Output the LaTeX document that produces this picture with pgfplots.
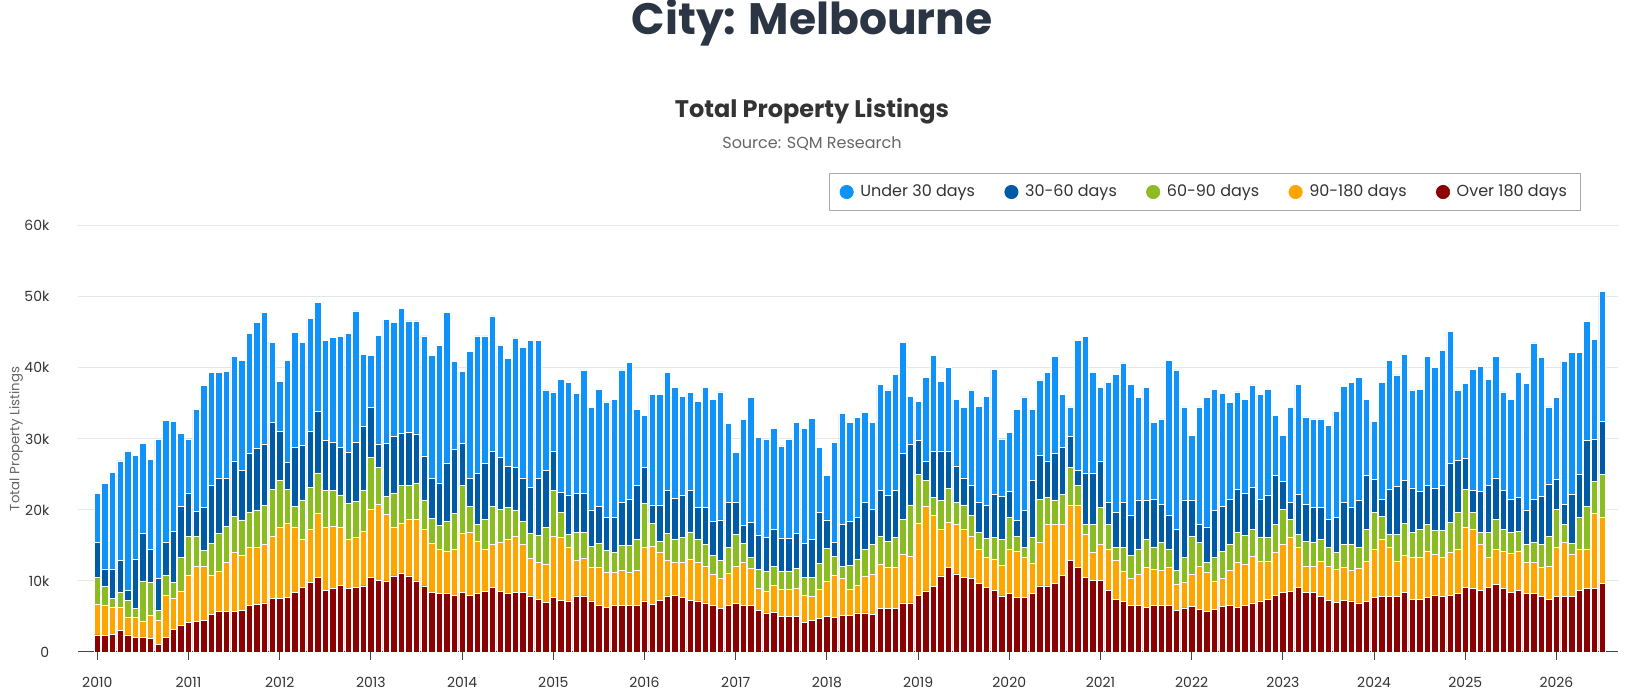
\documentclass[border=0pt]{standalone}
\usepackage{pgfplots}
\usepackage{pgfplotstable}
\pgfplotsset{compat=1.18}
\usepackage{fontspec}
\setmainfont{Poppins}
\definecolor{cltb}{HTML}{0F93FA}
\definecolor{cdkb}{HTML}{005BA6}
\definecolor{cgrn}{HTML}{8BBC21}
\definecolor{corg}{HTML}{FFA500}
\definecolor{cred}{HTML}{8B0000}
\definecolor{titlec}{HTML}{2B3544}
\definecolor{txt}{HTML}{333333}
\definecolor{subc}{HTML}{666666}
\definecolor{gridc}{HTML}{E6E6E6}
\definecolor{legb}{HTML}{AAAAAA}
\definecolor{axc}{HTML}{444444}

\pgfplotstableread{
x red org grn dkb ltb
0 2400 4350 3750 4900 6900
1 2300 4200 2700 2500 12000
2 2500 3800 1250 4150 13600
3 3000 3300 2050 4550 14000
4 2400 2500 2400 1400 19600
5 2100 2800 1200 7000 14600
6 2000 2300 5700 6700 12700
7 1900 3300 4600 4600 12700
8 1100 3300 1500 4400 19600
9 2000 6000 2800 4600 17200
10 3200 4350 2250 7200 15500
11 3700 4900 4700 7200 10300
12 4200 6600 5500 6100 7600
13 4300 7800 4200 3500 14300
14 4400 7700 2200 6100 17100
15 5300 5500 4500 8200 15800
16 5700 5700 5300 7800 14800
17 5700 6900 5100 6800 15000
18 5700 8300 5100 7800 14700
19 5900 7700 5000 7000 15500
20 6600 8100 5000 8200 16900
21 6750 7950 5300 8600 17800
22 6900 8200 5500 8700 18500
23 7550 8750 6600 9400 11300
24 7550 9950 6600 7000 7000
25 7700 10400 4800 3800 14400
26 8350 9150 3000 8300 16200
27 9050 6750 5600 7700 14500
28 9800 7500 5900 7900 15800
29 10500 9000 5700 8700 15300
30 8700 8800 5300 7000 14000
31 8900 8800 5000 6800 14800
32 9400 8100 4600 6700 15600
33 8900 7000 5000 7200 16700
34 9050 7050 5100 8300 18500
35 9300 7700 5700 9100 10100
36 10500 9600 7300 7000 7400
37 10100 10700 5200 3300 15300
38 10000 9400 2500 7500 17400
39 10700 6800 4900 8000 16000
40 11100 7000 5300 7400 17600
41 10700 8000 4700 7500 15700
42 10000 8700 5100 6900 15900
43 9300 7900 4200 6200 16900
44 8350 6950 3500 5600 17300
45 8200 6200 3400 6000 19400
46 8200 6000 4200 8100 21300
47 8000 6400 5100 9000 12400
48 8350 8350 6700 6000 10100
49 8000 8800 3700 3900 17900
50 8200 7400 2300 7200 19400
51 8500 5900 4300 7900 17900
52 9050 6050 5400 7800 19000
53 8500 7000 4600 7300 15700
54 8200 7700 4400 5900 15100
55 8350 7950 3700 6000 18200
56 8350 6750 3300 6100 18400
57 7900 5300 3500 6500 20700
58 7450 5150 3800 8000 19500
59 7000 5400 5100 8100 11300
60 7700 8600 6400 5600 8300
61 7300 8800 3600 2800 15900
62 7200 7500 1800 5600 15800
63 7900 5000 3900 5500 14100
64 7900 5300 3600 5500 17400
65 7200 4700 3000 5100 14400
66 6600 5300 3400 5200 16500
67 6300 4900 3100 4600 16300
68 6500 4700 2800 4900 16700
69 6500 5000 3500 6100 18600
70 6500 4700 3800 6500 19300
71 6500 5000 4300 7600 10800
72 7200 7500 6200 5100 7300
73 6750 8150 3200 2600 15600
74 7300 6700 1600 5100 15600
75 7900 5000 3800 6100 16600
76 8000 4600 3300 5700 15600
77 7700 4900 3500 5900 14000
78 7300 5800 3800 5900 13700
79 7200 5400 3200 4500 15000
80 6900 5200 3000 5200 16900
81 6500 4500 2600 4800 17200
82 6100 4300 2500 5700 18000
83 6600 4500 3600 6400 11100
84 6850 5250 4400 4600 7000
85 6600 6000 2700 2500 14900
86 6500 5300 1500 4900 17600
87 5900 3100 2600 4800 13800
88 5500 3000 2900 4700 13800
89 5600 3800 2700 5100 14300
90 5000 3800 2600 4600 13000
91 5000 3800 2600 4600 13900
92 5000 4000 2800 4900 15600
93 4200 3800 2500 4800 16200
94 4400 3500 2600 5400 17000
95 4700 4100 3700 7200 9100
96 5000 5000 4600 4000 6200
97 4900 5900 2600 2000 14100
98 5200 5200 1600 5900 15700
99 5200 3600 3400 6200 13900
100 5500 3900 3700 5800 14100
101 5500 5200 3700 6700 12600
102 5300 5700 4100 5000 12200
103 6100 6300 3900 6400 15000
104 6100 5800 3700 6500 14800
105 6100 5800 4200 6700 16300
106 6900 6900 4900 9200 15700
107 6900 6600 7200 8600 6700
108 8000 10100 6900 4800 5500
109 8600 11900 3700 2600 11900
110 9200 10100 2500 6500 13500
111 10700 6500 4100 7000 9800
112 11900 6300 4800 5300 11800
113 11000 6900 3100 5200 9400
114 10500 6700 3500 3800 9900
115 10300 6000 3000 4100 13500
116 9600 4900 2300 4200 13600
117 9050 4250 2700 4600 15400
118 8700 4400 3000 6100 17600
119 7900 4300 3600 6100 8100
120 8200 6300 4500 3600 8300
121 7650 6550 2100 2200 15600
122 7650 5650 1400 5200 16000
123 8200 4300 3600 8000 10100
124 9300 6100 6100 6200 10600
125 9300 8600 3800 5200 12400
126 9600 8300 3500 6500 13700
127 10800 7100 4300 6600 7400
128 12900 7800 5300 4300 4200
129 11900 8800 2700 2100 18300
130 10500 6100 1400 7100 19300
131 10100 3900 4000 7200 14100
132 10100 5000 5200 6600 10400
133 8700 5700 3500 3100 17000
134 7450 5450 1800 4900 19500
135 7100 4300 3300 6300 19700
136 6500 3900 3200 5700 18400
137 6500 4500 3500 6900 14400
138 6300 5600 4000 5500 15800
139 6500 5200 3100 6700 10800
140 6500 5000 3900 5400 12000
141 6600 5300 2600 4800 21800
142 5900 3600 2000 5800 22400
143 6200 3600 3500 8100 13100
144 6400 4600 5300 5100 9100
145 6000 6100 3300 2600 16500
146 5700 5500 1400 5000 18200
147 6050 3950 3300 6600 17100
148 6400 4000 3800 6300 15900
149 6500 5000 3700 6300 13600
150 6300 6300 4300 6000 13700
151 6500 5800 4100 5900 13300
152 6900 6500 3800 6000 14400
153 7100 5600 3500 5300 14700
154 7450 5350 3300 6000 14900
155 8000 6000 4000 6800 8500
156 8350 6850 4900 3900 6500
157 8500 7600 2600 2400 13300
158 9050 5650 1900 5600 15500
159 8350 3750 3500 5200 12300
160 8350 3750 3400 4800 12500
161 7800 5000 3100 4400 12500
162 7300 4800 2600 4000 13200
163 7000 4600 2400 4900 15000
164 7300 4600 3200 5900 16400
165 7200 4300 3600 5200 17600
166 6900 4900 2900 6700 17200
167 7100 5700 4500 7500 10700
168 7700 6800 5200 4600 8200
169 7800 8100 3200 2400 16400
170 7800 6900 1900 6300 18200
171 7800 5000 3700 6800 15700
172 8350 5250 4500 6000 17800
173 7450 5850 3500 6300 13800
174 7450 5850 4000 5300 14400
175 7650 6550 3700 5500 18200
176 8000 5800 3300 6000 16900
177 7800 5500 3800 6300 19100
178 8000 6000 4200 8400 18500
179 8200 6200 5200 7400 9900
180 9050 8450 5400 4400 10500
181 8900 8300 2400 3200 17000
182 8700 6400 1700 5800 17600
183 9050 4250 3500 6700 14900
184 9500 5000 4200 5800 17100
185 8900 5300 3100 5500 13800
186 8350 5550 2900 4700 14000
187 8700 5500 2800 4800 17600
188 8200 4400 2500 4900 17800
189 8200 4400 2900 6000 22000
190 7800 4100 3200 6800 19600
191 7450 4650 4200 7300 10900
192 7800 6900 5400 4200 11500
193 7800 7700 2400 2900 20100
194 7800 6000 1500 6900 20000
195 8700 5800 4500 6000 17200
196 9000 5500 6000 9300 16700
197 9000 10500 4500 6000 14000
198 9700 9300 6000 7500 18200
}\listings

\begin{document}
\begin{tikzpicture}
\path[use as bounding box] (-58.5pt,-29.25pt) rectangle (1160.25pt,489pt);
\begin{axis}[
  at={(0pt,0pt)}, anchor=south west,
  scale only axis, width=1155pt, height=319.7pt,
  ybar stacked, bar width=4.8pt,
  xmin=-2.54, xmax=200.1, ymin=0, ymax=60000,
  axis x line*=bottom, axis y line*=left,
  x axis line style={draw=axc, line width=0.75pt, -},
  y axis line style={draw=none},
  xtick={0,12,24,36,48,60,72,84,96,108,120,132,144,156,168,180,192},
  xticklabels={2010,2011,2012,2013,2014,2015,2016,2017,2018,2019,2020,2021,2022,2023,2024,2025,2026},
  ytick={0,10000,20000,30000,40000,50000,60000},
  yticklabels={0,10k,20k,30k,40k,50k,60k},
  scaled y ticks=false,
  tick align=outside,
  major tick length=6pt,
  xtick style={draw=axc, line width=0.75pt},
  ytick style={draw=none},
  ymajorgrids, grid style={gridc, line width=0.75pt},
  /pgf/number format/assume math mode=true,
  xticklabel style={font=\fontsize{10.5}{12}\selectfont, text=txt, anchor=north, yshift=-9pt},
  yticklabel style={font=\fontsize{10.5}{12}\selectfont, text=txt, anchor=east, xshift=-12pt},
  ylabel={Total Property Listings},
  every axis y label/.style={at={(axis description cs:-0.04026,0.5)}, anchor=center, rotate=90, font=\fontsize{10}{12}\selectfont, text=subc},
  legend style={at={(axis description cs:0.7316,1.0791)}, anchor=center, draw=legb, line width=0.75pt, fill=white,
    font=\fontsize{12}{14}\selectfont, text=txt, legend columns=5,
    /tikz/every even column/.append style={column sep=20pt}, inner xsep=8pt, inner ysep=7pt},
  legend cell align=left,
  reverse legend,
]
\addplot[fill=cred, draw=white, line width=0.5pt, legend image code/.code={\fill[cred] (0pt,0pt) circle (5pt); \path (8pt,0pt);}] table[x=x, y=red] {\listings};
\addlegendentry{Over 180 days}
\addplot[fill=corg, draw=white, line width=0.5pt, legend image code/.code={\fill[corg] (0pt,0pt) circle (5pt); \path (8pt,0pt);}] table[x=x, y=org] {\listings};
\addlegendentry{90-180 days}
\addplot[fill=cgrn, draw=white, line width=0.5pt, legend image code/.code={\fill[cgrn] (0pt,0pt) circle (5pt); \path (8pt,0pt);}] table[x=x, y=grn] {\listings};
\addlegendentry{60-90 days}
\addplot[fill=cdkb, draw=white, line width=0.5pt, legend image code/.code={\fill[cdkb] (0pt,0pt) circle (5pt); \path (8pt,0pt);}] table[x=x, y=dkb] {\listings};
\addlegendentry{30-60 days}
\addplot[fill=cltb, draw=white, line width=0.5pt, legend image code/.code={\fill[cltb] (0pt,0pt) circle (5pt); \path (8pt,0pt);}] table[x=x, y=ltb] {\listings};
\addlegendentry{Under 30 days}
\end{axis}
\node[font=\fontsize{33}{38}\selectfont\bfseries, text=titlec] at (550.5pt,472pt) {City: Melbourne};
\node[font=\fontsize{18}{21}\selectfont\bfseries, text=txt] at (550.5pt,405.5pt) {Total Property Listings};
\node[font=\fontsize{12}{14}\selectfont, text=subc] at (550.5pt,381pt) {Source: SQM Research};
\end{tikzpicture}
\end{document}
